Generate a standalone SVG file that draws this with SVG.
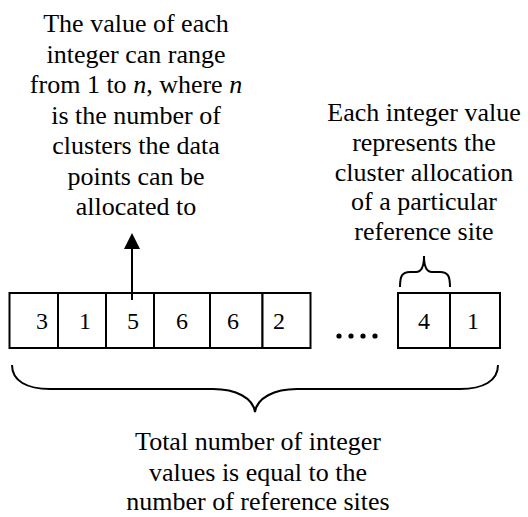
<svg xmlns="http://www.w3.org/2000/svg" width="528" height="517" viewBox="0 0 528 517">
  <style>
    .cell { fill: #ffffff; stroke: #000000; stroke-width: 2; }
    .num { font-family: "Liberation Serif", "Times New Roman", serif; font-size: 24px; fill: #000000; text-anchor: middle; }
    .lbl { font-family: "Liberation Serif", "Times New Roman", serif; font-size: 26px; fill: #000000; text-anchor: middle; }
    .conn { fill: none; stroke: #000000; stroke-width: 2; }
    .it { font-style: italic; }
  </style>
  <rect width="528" height="517" fill="#ffffff"/>

  <g id="cell-1"><rect class="cell" x="9.5" y="293" width="48.5" height="55"/><text class="num" x="42" y="329">3</text></g>
  <g id="cell-2"><rect class="cell" x="58" y="293" width="48" height="55"/><text class="num" x="85" y="329">1</text></g>
  <g id="cell-3"><rect class="cell" x="106" y="293" width="48" height="55"/><text class="num" x="133" y="329">5</text></g>
  <g id="cell-4"><rect class="cell" x="154" y="293" width="56" height="55"/><text class="num" x="182" y="329">6</text></g>
  <g id="cell-5"><rect class="cell" x="210" y="293" width="52.5" height="55"/><text class="num" x="233" y="329">6</text></g>
  <g id="cell-6"><rect class="cell" x="262.5" y="293" width="48" height="55"/><text class="num" x="279" y="329">2</text></g>
  <g id="ellipsis">
    <circle cx="339" cy="336" r="2.6" fill="#000000"/>
    <circle cx="351" cy="336" r="2.6" fill="#000000"/>
    <circle cx="363" cy="336" r="2.6" fill="#000000"/>
    <circle cx="375" cy="336" r="2.6" fill="#000000"/>
  </g>
  <g id="cell-7"><rect class="cell" x="398" y="293" width="52" height="55"/><text class="num" x="424" y="329">4</text></g>
  <g id="cell-8"><rect class="cell" x="450" y="293" width="50" height="55"/><text class="num" x="473" y="329">1</text></g>

  <g id="note-range">
    <text class="lbl" x="136" y="32">The value of each</text>
    <text class="lbl" x="136" y="62.5">integer can range</text>
    <text class="lbl" x="136" y="93">from 1 to <tspan class="it">n</tspan>, where <tspan class="it">n</tspan></text>
    <text class="lbl" x="136" y="123.5">is the number of</text>
    <text class="lbl" x="136" y="154">clusters the data</text>
    <text class="lbl" x="136" y="184.5">points can be</text>
    <text class="lbl" x="136" y="215">allocated to</text>
  </g>
  <g id="note-allocation">
    <text class="lbl" x="424" y="121">Each integer value</text>
    <text class="lbl" x="424" y="151">represents the</text>
    <text class="lbl" x="424" y="181">cluster allocation</text>
    <text class="lbl" x="424" y="210">of a particular</text>
    <text class="lbl" x="424" y="240">reference site</text>
  </g>
  <g id="note-total">
    <text class="lbl" x="258" y="450">Total number of integer</text>
    <text class="lbl" x="258" y="480.5">values is equal to the</text>
    <text class="lbl" x="258" y="510">number of reference sites</text>
  </g>

  <g id="connectors">
    <line class="conn" x1="132" y1="300" x2="132" y2="249"/>
    <path d="M124,249 L132,233 L140,249 Z" fill="#000000"/>
    <path class="conn" d="M400,287 C400,276 402,272 410,272 L416,272 C421,272 424,268 424,256 C424,268 427,272 432,272 L440,272 C448,272 450,276 450,287"/>
    <path class="conn" d="M12,365 C12,381 27,389 50,389 L213,389 C236,389 253,398 255,412 C257,398 274,389 297,389 L460,389 C483,389 498,381 498,365"/>
  </g>
</svg>
